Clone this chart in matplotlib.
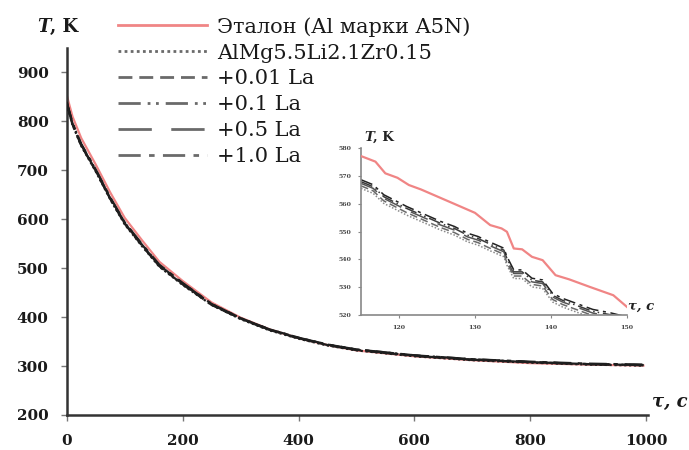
import matplotlib
matplotlib.use("Agg")
import matplotlib.pyplot as plt

# ---------------- data ----------------
labels = ["Эталон (Al марки A5N)", "AlMg5.5Li2.1Zr0.15", "+0.01 La", "+0.1 La", "+0.5 La", "+1.0 La"]

tau_main = [0, 10, 25, 50, 75, 100, 130, 160, 200, 250, 300, 350, 400, 450, 500, 600, 700, 800, 900, 995]
T_etalon = [854, 810, 766, 712, 655, 603, 557, 513, 474, 430, 399, 375, 357, 343, 332, 320, 312, 306, 303, 301]
T_base = [836, 793, 750, 698, 641, 590, 545, 503, 466, 425, 396, 373, 356, 342, 332, 320, 312, 307, 303, 301]
T_001 = [837, 794, 751, 699, 642, 591, 546, 504, 467, 425, 397, 374, 357, 343, 333, 321, 313, 308, 304, 302]
T_01 = [839, 796, 753, 701, 644, 593, 548, 506, 469, 427, 398, 375, 358, 344, 334, 322, 314, 308, 304, 302]
T_05 = [838, 795, 752, 700, 643, 592, 547, 505, 468, 426, 397, 374, 357, 343, 333, 321, 313, 308, 304, 302]
T_10 = [840, 797, 754, 702, 645, 594, 549, 507, 470, 427, 398, 375, 358, 344, 334, 322, 314, 309, 305, 303]

tau_in_et = [115, 116.9, 118.2, 119.8, 121.3, 122.9, 125.1, 127.3, 130, 132, 133.5, 134.2, 135.1,
             136.2, 137.5, 138.9, 140.6, 142.4, 145.1, 148.2, 150]
T_in_et = [577.1, 575.1, 570.9, 569.3, 566.7, 565.1, 562.5, 559.9, 556.7, 552.3, 551.1, 549.9, 543.9,
           543.6, 540.9, 539.7, 534.3, 532.8, 530.1, 527.1, 522.9]

tau_in = [115, 116.6, 118, 119.3, 121, 123, 125.5, 127.3, 129, 130.4, 131.8, 133.8, 134.2, 135.1,
          136.2, 137.5, 138.9, 140.2, 141.5, 143.3, 145.5, 147.8, 150]
T_in_base = [565.5, 563.7, 560.1, 558.3, 555.9, 553.5, 550.5, 548.7, 546.3, 545.1, 543.3, 540.9, 537.9, 533.1,
             533.1, 530.1, 529.5, 524.7, 522.9, 521.1, 518.9, 517.7, 516.2]
T_in_001 = [566.4, 564.6, 561.0, 559.2, 556.8, 554.4, 551.4, 549.6, 547.2, 546.0, 544.2, 541.8, 538.8, 534.0,
            534.0, 531.0, 530.4, 525.6, 523.8, 522.0, 519.8, 518.6, 517.1]
T_in_01 = [567.9, 566.1, 562.5, 560.7, 558.3, 555.9, 552.9, 551.1, 548.7, 547.5, 545.7, 543.3, 540.3, 535.5,
           535.5, 532.5, 531.9, 527.1, 525.3, 523.5, 521.3, 520.1, 518.6]
T_in_05 = [567.3, 565.5, 561.9, 560.1, 557.7, 555.3, 552.3, 550.5, 548.1, 546.9, 545.1, 542.7, 539.7, 534.9,
           534.9, 531.9, 531.3, 526.5, 524.7, 522.9, 520.7, 519.5, 518.0]
T_in_10 = [568.6, 566.8, 563.2, 561.4, 559.0, 556.6, 553.6, 551.8, 549.4, 548.2, 546.4, 544.0, 541.0, 536.2,
           536.2, 533.2, 532.6, 527.8, 526.0, 524.2, 522.0, 520.8, 519.3]

main_x_ticks = [0, 200, 400, 600, 800, 1000]
main_y_ticks = [200, 300, 400, 500, 600, 700, 800, 900]
in_x_ticks = [120, 130, 140, 150]
in_y_ticks = [520, 530, 540, 550, 560, 570, 580]

# ---------------- style ----------------
plt.rcParams['font.family'] = ['DejaVu Serif']
pink = '#f08585'
styles = [(0, (1, 1.2)), (0, (5, 2.5)), (0, (8, 2.5, 1, 2, 1, 2.5)), (0, (12, 7)), (0, (8, 3, 2, 3))]
alloy_main = [T_base, T_001, T_01, T_05, T_10]
alloy_in = [T_in_base, T_in_001, T_in_01, T_in_05, T_in_10]

fig = plt.figure(figsize=(6.89, 4.5), dpi=100)
ax = fig.add_axes([66.7 / 689, 1 - 415 / 450, (648 - 66.7) / 689, (415 - 48) / 450])

h_et, = ax.plot(tau_main, T_etalon, color=pink, lw=1.6, zorder=2)
handles = [h_et]
for T, ls in zip(alloy_main, styles):
    h, = ax.plot(tau_main, T, color='#1e1e1e', lw=1.6, linestyle=ls, zorder=3)
    handles.append(h)

ax.set_xlim(0, 1003)
ax.set_ylim(200, 950)
ax.set_xticks(main_x_ticks)
ax.set_yticks(main_y_ticks)
for s in ['top', 'right']:
    ax.spines[s].set_visible(False)
for s in ['left', 'bottom']:
    ax.spines[s].set_linewidth(1.8)
    ax.spines[s].set_color('#333333')
ax.tick_params(axis='both', direction='out', length=4, width=1, color='#777777',
               labelsize=11, labelcolor='#1a1a1a')
ax.tick_params(axis='y', pad=9)
ax.tick_params(axis='x', pad=10)
for lab in ax.get_xticklabels() + ax.get_yticklabels():
    lab.set_fontweight('bold')

fig.text(37 / 689, 1 - 27 / 450, "T", fontsize=13, fontweight='bold', fontstyle='italic',
         va='center', ha='left', color='#1a1a1a')
fig.text(50 / 689, 1 - 27 / 450, ", K", fontsize=13, fontweight='bold',
         va='center', ha='left', color='#1a1a1a')
fig.text(652 / 689, 1 - 402 / 450, "τ, c", fontsize=13, fontweight='bold', fontstyle='italic',
         va='center', ha='left', color='#1a1a1a')

# legend
leg = fig.legend(handles, labels, loc='upper left', bbox_to_anchor=(118 / 689, 1 - 17 / 450),
                 frameon=False, fontsize=15, handlelength=4.25, handletextpad=0.5,
                 labelspacing=0.33, borderpad=0, borderaxespad=0)
for line in leg.get_lines():
    line.set_linewidth(2.0)
for line in leg.get_lines()[1:]:
    line.set_color('#6a6a6a')
for t in leg.get_texts():
    t.set_color('#1a1a1a')

# inset
axi = fig.add_axes([361 / 689, 1 - 315 / 450, (627 - 361) / 689, (315 - 148) / 450])
axi.plot(tau_in_et, T_in_et, color=pink, lw=1.6, zorder=3)
in_colors = ['#8a8a8a', '#6a6a6a', '#3a3a3a', '#555555', '#222222']
for T, ls, c in zip(alloy_in, styles, in_colors):
    axi.plot(tau_in, T, color=c, lw=1.1, linestyle=ls, zorder=2)
axi.set_xlim(115, 150)
axi.set_ylim(520, 580)
axi.set_xticks(in_x_ticks)
axi.set_yticks(in_y_ticks)
axi.patch.set_alpha(0)
for s in ['top', 'right']:
    axi.spines[s].set_visible(False)
for s in ['left', 'bottom']:
    axi.spines[s].set_linewidth(1.2)
    axi.spines[s].set_color('#888888')
axi.tick_params(axis='both', direction='out', length=2, width=0.8, color='#888888',
                labelsize=4.5, labelcolor='#444444', pad=5)
for lab in axi.get_xticklabels() + axi.get_yticklabels():
    lab.set_fontweight('bold')

fig.text(364 / 689, 1 - 137 / 450, "T", fontsize=9.5, fontweight='bold', fontstyle='italic',
         va='center', ha='left', color='#222222')
fig.text(373 / 689, 1 - 137 / 450, ", K", fontsize=9.5, fontweight='bold',
         va='center', ha='left', color='#222222')
fig.text(628 / 689, 1 - 306 / 450, "τ, c", fontsize=9.5, fontweight='bold', fontstyle='italic',
         va='center', ha='left', color='#222222')

fig.savefig("out.png", dpi=100)
